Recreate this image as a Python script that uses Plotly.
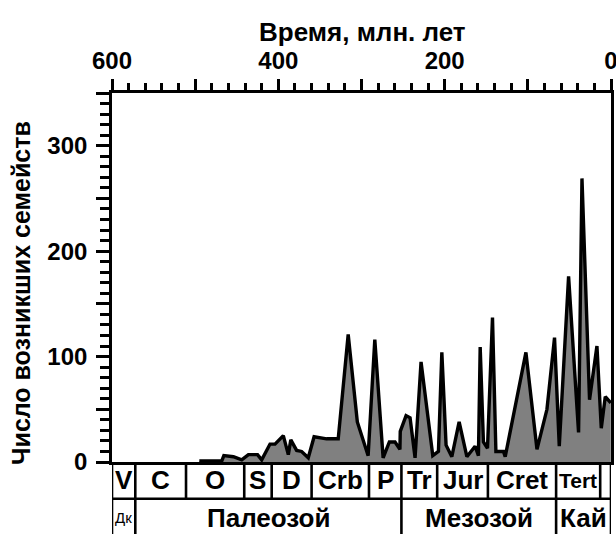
import plotly.graph_objects as go

# ---- data ----
ages = [495, 468, 465.5, 454, 444, 436, 425, 420, 410, 404,
        394, 388, 385, 378, 372, 364, 357, 342, 328, 316,
        305, 292, 284, 274, 266.5, 259.7, 253.8, 253.4, 246.4, 241.6,
        235.6, 228.4, 214.3, 207.5, 203.4, 198.3, 191.4, 182.6, 173.3, 163.4,
        159.4, 157.3, 153.4, 148.5, 142.5, 138.4, 129.3, 127.2, 102.3, 89,
        77, 67.9, 62.2, 51, 39, 34.9, 25.8, 16.9, 11.7, 6.9, 0.2]
counts = [1, 1, 6, 5, 2, 7, 7, 2, 17, 17,
          25, 7, 21, 11, 10, 4, 24, 22, 22, 121,
          38, 6, 116, 4, 19, 19, 12, 29, 44, 42,
          4, 95, 6, 10, 104, 16, 5, 38, 5, 15,
          6, 109, 19, 13, 137, 10, 10, 5, 104, 12,
          50, 118, 15, 176, 28, 269, 59, 110, 32, 62, 56]

period_names = ['V', 'C', 'O', 'S', 'D', 'Crb', 'P', 'Tr', 'Jur', 'Cret', 'Tert', '']
period_bounds = [600, 572, 511, 441, 408, 360, 291, 252, 209, 148, 66, 13, 0]
era_names = ['Дк', 'Палеозой', 'Мезозой', 'Кай']
era_bounds = [600, 572, 252, 66, 0]

x_tickvals = [600, 500, 400, 300, 200, 100, 0]
x_ticktext = ['600', '', '400', '', '200', '', '0']
y_tickvals = [0, 50, 100, 150, 200, 250, 300, 350]
y_ticktext = ['0', '', '100', '', '200', '', '300', '']

FONT = "Liberation Sans"
LW = 2.6

fig = go.Figure()
fig.add_trace(go.Scatter(
    x=ages, y=counts, mode='lines', fill='tozeroy',
    fillcolor='#808080', line=dict(color='black', width=3.4),
    hoverinfo='skip', showlegend=False))

# ---- table geometry (paper coords) ----
row1_bottom = -0.0994
row2_bottom = -0.30
row1_mid = -0.0497
row2_mid = -0.151

shapes = []
shapes.append(dict(type='line', xref='x', yref='paper', x0=600, x1=0,
                   y0=row1_bottom, y1=row1_bottom,
                   line=dict(color='black', width=LW)))
for xv in (600, 0):
    shapes.append(dict(type='line', xref='x', yref='paper', x0=xv, x1=xv,
                       y0=row2_bottom, y1=0, line=dict(color='black', width=LW)))
for xv in period_bounds[1:-1]:
    shapes.append(dict(type='line', xref='x', yref='paper', x0=xv, x1=xv,
                       y0=row1_bottom, y1=0, line=dict(color='black', width=LW)))
for xv in era_bounds[1:-1]:
    shapes.append(dict(type='line', xref='x', yref='paper', x0=xv, x1=xv,
                       y0=row2_bottom, y1=row1_bottom, line=dict(color='black', width=LW)))

annotations = []
for i, name in enumerate(period_names):
    if not name:
        continue
    xc = (period_bounds[i] + period_bounds[i + 1]) / 2
    size = 26
    if name == 'Tert':
        size = 21
    annotations.append(dict(x=xc, y=row1_mid, xref='x', yref='paper', text=name,
                            showarrow=False, xanchor='center', yanchor='middle',
                            font=dict(family=FONT, size=size, color='black', weight='bold')))
for i, name in enumerate(era_names):
    xc = (era_bounds[i] + era_bounds[i + 1]) / 2
    size = 26
    weight = 'bold'
    if name == 'Дк':
        size = 15
        weight = 'normal'
    annotations.append(dict(x=xc, y=row2_mid, xref='x', yref='paper', text=name,
                            showarrow=False, xanchor='center', yanchor='middle',
                            font=dict(family=FONT, size=size, color='black', weight=weight)))

annotations.append(dict(x=0.503, y=1.165, xref='paper', yref='paper',
                        text='Время, млн. лет', showarrow=False,
                        xanchor='center', yanchor='middle',
                        font=dict(family=FONT, size=26, color='black', weight='bold')))
annotations.append(dict(x=-0.181, y=0.457, xref='paper', yref='paper',
                        text='Число возникших семейств', showarrow=False,
                        textangle=-90, xanchor='center', yanchor='middle',
                        font=dict(family=FONT, size=25, color='black', weight='bold')))

fig.update_layout(
    width=616, height=534,
    margin=dict(l=112, r=5, t=93, b=72, autoexpand=False),
    paper_bgcolor='white', plot_bgcolor='white',
    shapes=shapes, annotations=annotations,
    xaxis=dict(range=[600, 0], side='top', showgrid=False, zeroline=False,
               automargin=False, ticklabeloverflow='allow',
               showline=True, linecolor='black', linewidth=LW, mirror=True,
               ticks='outside', ticklen=11, tickwidth=LW, tickcolor='black',
               tickvals=x_tickvals, ticktext=x_ticktext, ticklabelstandoff=1,
               tickfont=dict(family=FONT, size=24, color='black', weight='bold'),
               minor=dict(dtick=20, ticklen=7, tickwidth=LW, tickcolor='black',
                          ticks='outside', showgrid=False)),
    yaxis=dict(range=[0, 350], showgrid=False, zeroline=False,
               automargin=False, ticklabeloverflow='allow',
               showline=True, linecolor='black', linewidth=LW, mirror=True,
               ticks='outside', ticklen=13, tickwidth=LW, tickcolor='black',
               tickvals=y_tickvals, ticktext=y_ticktext,
               ticklabelstandoff=4,
               tickfont=dict(family=FONT, size=24, color='black', weight='bold'),
               minor=dict(dtick=10, ticklen=9, tickwidth=LW, tickcolor='black',
                          ticks='outside', showgrid=False)),
)

fig.write_html("out.html")
